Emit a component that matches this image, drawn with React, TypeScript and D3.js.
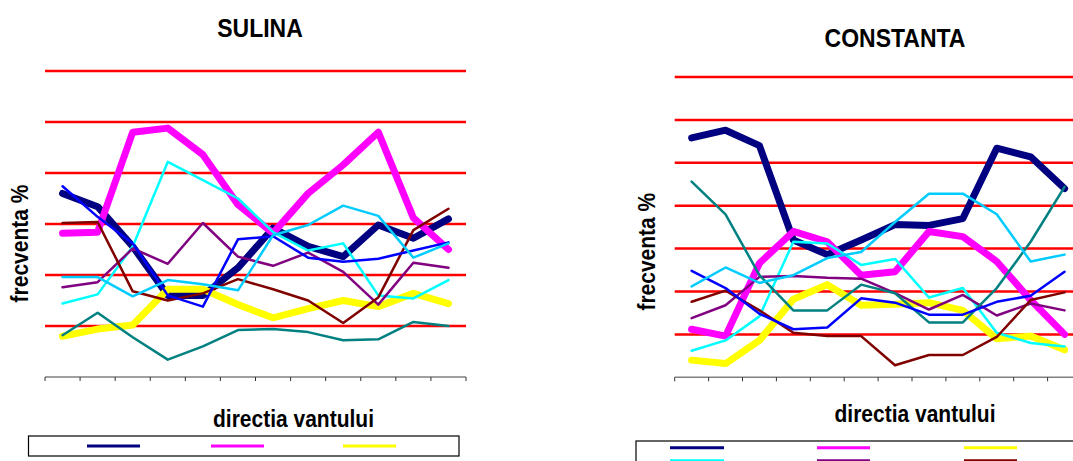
import React from "react";
import * as d3 from "d3";

// Wind direction sectors (12 sectors of 30 degrees)
const directions = ["0", "30", "60", "90", "120", "150", "180", "210", "240", "270", "300", "330"];

// Series order and colours (default Excel line palette)
const seriesNames = ["seria 1", "seria 2", "seria 3", "seria 4", "seria 5", "seria 6", "seria 7", "seria 8", "seria 9"];
const seriesColors = ["#000080", "#FF00FF", "#FFFF00", "#00FFFF", "#800080", "#800000", "#008080", "#0000FF", "#00CCFF"];
const seriesWidths = [7, 7, 7, 2.5, 2.5, 2.5, 2.5, 2.5, 2.5];

// SULINA frequencies (%)
const sulina1 = [18.0, 16.7, 12.8, 8.0, 8.0, 10.7, 14.6, 12.8, 11.8, 14.9, 13.6, 15.5];
const sulina2 = [14.1, 14.2, 24.0, 24.4, 21.8, 16.9, 14.1, 18.0, 20.8, 24.0, 15.6, 12.5];
const sulina3 = [4.0, 4.7, 5.1, 8.6, 8.6, 7.1, 5.8, 6.7, 7.5, 6.9, 8.2, 7.2];
const sulina4 = [7.2, 8.1, 12.8, 21.1, 19.3, 17.5, 14.2, 12.4, 13.1, 8.0, 7.7, 9.5];
const sulina5 = [8.8, 9.3, 12.6, 11.1, 15.1, 11.8, 10.9, 12.2, 10.3, 7.1, 11.2, 10.7];
const sulina6 = [15.1, 15.2, 8.4, 7.5, 8.2, 9.6, 8.6, 7.5, 5.3, 7.8, 14.4, 16.5];
const sulina7 = [4.1, 6.3, 3.9, 1.7, 3.0, 4.6, 4.7, 4.4, 3.6, 3.7, 5.4, 5.0];
const sulina8 = [18.7, 15.7, 13.1, 8.0, 6.9, 13.5, 13.8, 11.7, 11.3, 11.6, 12.4, 13.2];
const sulina9 = [9.8, 9.8, 7.9, 9.5, 9.1, 8.5, 13.9, 14.9, 16.8, 15.8, 11.7, 13.1];

// CONSTANTA frequencies (%)
const constanta1 = [27.9, 28.8, 27.0, 16.0, 14.3, 16.0, 17.8, 17.7, 18.5, 26.7, 25.7, 22.0];
const constanta2 = [5.6, 4.8, 13.3, 17.0, 15.8, 11.9, 12.3, 17.0, 16.4, 13.5, 9.0, 5.0];
const constanta3 = [2.0, 1.6, 4.3, 9.1, 10.8, 8.4, 8.5, 8.7, 7.8, 4.5, 4.8, 3.2];
const constanta4 = [3.1, 4.3, 7.1, 15.8, 15.6, 13.1, 13.8, 9.3, 10.4, 5.2, 4.0, 3.6];
const constanta5 = [6.9, 8.4, 11.7, 11.8, 11.6, 11.5, 9.8, 7.9, 9.6, 7.2, 8.6, 7.8];
const constanta6 = [8.8, 10.1, 7.8, 5.2, 4.8, 4.8, 1.4, 2.6, 2.6, 4.7, 9.0, 9.9];
const constanta7 = [22.8, 19.0, 11.9, 7.8, 7.8, 10.8, 9.8, 6.4, 6.4, 10.4, 15.8, 22.2];
const constanta8 = [12.4, 10.4, 7.4, 5.6, 5.8, 9.2, 8.7, 7.3, 7.3, 8.8, 9.5, 12.3];
const constanta9 = [10.6, 12.8, 11.0, 11.9, 13.9, 14.6, 18.1, 21.4, 21.4, 19.0, 13.5, 14.3];

const sulinaSeries = [sulina1, sulina2, sulina3, sulina4, sulina5, sulina6, sulina7, sulina8, sulina9];
const constantaSeries = [constanta1, constanta2, constanta3, constanta4, constanta5, constanta6, constanta7, constanta8, constanta9];

const FONT = "'Liberation Sans', Arial, sans-serif";

// Bold label, slightly stretched along the glyph height
function Label({
  x,
  y,
  size,
  rotate = 0,
  children,
}: {
  x: number;
  y: number;
  size: number;
  rotate?: number;
  children: React.ReactNode;
}) {
  return (
    <g transform={`translate(${x},${y}) rotate(${rotate}) scale(1,1.1)`}>
      <text x={0} y={0} textAnchor="middle" fontFamily={FONT} fontWeight="bold" fontSize={size} fill="#000">
        {children}
      </text>
    </g>
  );
}

type PanelProps = {
  title: string;
  series: number[][];
  x0: number;
  x1: number;
  yTop: number;
  yBottom: number;
  yMax: number;
  step: number;
  titleX: number;
  titleY: number;
  xTitleX: number;
  xTitleY: number;
  yTitleX: number;
  yTitleY: number;
};

function Panel(p: PanelProps) {
  const x = d3.scaleBand<string>().domain(directions).range([p.x0, p.x1]);
  const y = d3.scaleLinear().domain([0, p.yMax]).range([p.yBottom, p.yTop]);
  const gridValues = d3.range(p.step, p.yMax + 0.001, p.step);
  const line = d3
    .line<number>()
    .x((_, i) => (x(directions[i]) as number) + x.bandwidth() / 2)
    .y((v) => y(v));
  const tickXs = directions.map((d) => x(d) as number).concat([p.x1]);

  return (
    <g>
      <Label x={p.titleX} y={p.titleY} size={23}>
        {p.title}
      </Label>
      {gridValues.map((v) => (
        <line key={v} x1={p.x0} x2={p.x1} y1={y(v)} y2={y(v)} stroke="#FF0000" strokeWidth={2.5} />
      ))}
      <line x1={p.x0} x2={p.x1} y1={y(0)} y2={y(0)} stroke="#808080" strokeWidth={1.5} />
      {tickXs.map((tx, i) => (
        <line key={i} x1={tx} x2={tx} y1={y(0)} y2={y(0) + 4} stroke="#303030" strokeWidth={1} />
      ))}
      <g>
        {p.series.map((vals, i) => (
          <path
            key={i}
            d={line(vals) || ""}
            fill="none"
            stroke={seriesColors[i]}
            strokeWidth={seriesWidths[i]}
            strokeLinejoin="round"
            strokeLinecap="round"
          />
        ))}
      </g>
      <Label x={p.xTitleX} y={p.xTitleY} size={21}>
        directia vantului
      </Label>
      <Label x={p.yTitleX} y={p.yTitleY} size={21} rotate={-90}>
        frecventa %
      </Label>
    </g>
  );
}

function Legend({
  x,
  y,
  w,
  h,
  cols,
  rowY,
  count,
}: {
  x: number;
  y: number;
  w: number;
  h: number;
  cols: [number, number][];
  rowY: number[];
  count: number;
}) {
  return (
    <g>
      <rect x={x} y={y} width={w} height={h} fill="#fff" stroke="#000" strokeWidth={1.2} />
      {seriesNames.slice(0, count).map((name, i) => {
        const c = cols[i % cols.length];
        const r = rowY[Math.floor(i / cols.length)];
        if (r === undefined) return null;
        return (
          <line
            key={name}
            x1={c[0]}
            x2={c[1]}
            y1={r}
            y2={r}
            stroke={seriesColors[i]}
            strokeWidth={3}
          />
        );
      })}
    </g>
  );
}

export default function App() {
  return (
    <svg
      width={1073}
      height={461}
      viewBox="0 0 1073 461"
      style={{ position: "absolute", left: 0, top: 0, background: "#fff" }}
    >
      <rect x={0} y={0} width={1073} height={461} fill="#fff" />
      <Panel
        title="SULINA"
        series={sulinaSeries}
        x0={45}
        x1={466}
        yTop={71}
        yBottom={377}
        yMax={30}
        step={5}
        titleX={260}
        titleY={37}
        xTitleX={293.5}
        xTitleY={427}
        yTitleX={28}
        yTitleY={243.5}
      />
      <Panel
        title="CONSTANTA"
        series={constantaSeries}
        x0={674.7}
        x1={1081.5}
        yTop={77}
        yBottom={377.3}
        yMax={35}
        step={5}
        titleX={895}
        titleY={47}
        xTitleX={915}
        xTitleY={422}
        yTitleX={655}
        yTitleY={251.7}
      />
      <Legend
        x={28.5}
        y={436}
        w={430.5}
        h={20}
        cols={[
          [87, 140],
          [211, 264],
          [343, 396],
        ]}
        rowY={[446]}
        count={3}
      />
      <Legend
        x={636}
        y={441}
        w={500}
        h={60}
        cols={[
          [670, 724],
          [817, 870],
          [964, 1017],
        ]}
        rowY={[447.7, 460.7, 473.7]}
        count={9}
      />
    </svg>
  );
}
